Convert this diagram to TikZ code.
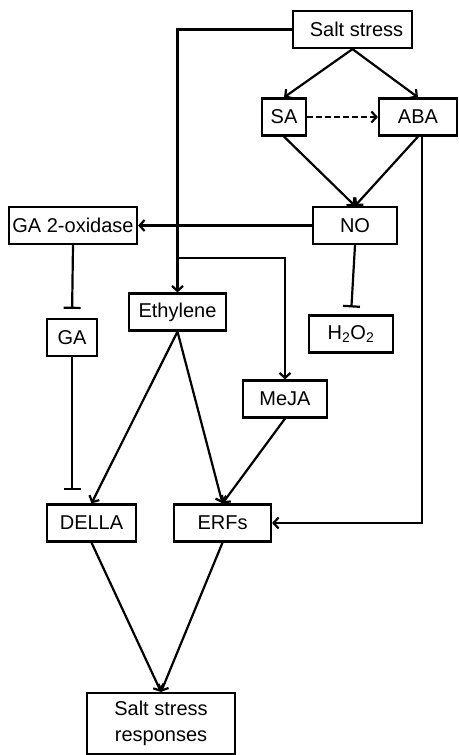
\documentclass[tikz,border=0pt]{standalone}
\usepackage{fontspec}
\setmainfont{Liberation Sans}
\usetikzlibrary{arrows.meta}
\begin{document}
\begin{tikzpicture}[
            x=1pt, y=-1pt,
            line width=2.2pt,
            every node/.style={draw, rectangle, minimum height=37pt, inner sep=0pt, font=\fontsize{20}{26}\selectfont},
            act/.style={draw, -{Straight Barb[length=5pt, width=11pt]}},
            inh/.style={draw, -{Bar[width=17pt]}}
        ]
        \useasboundingbox (0,0) rectangle (458,755);
        \node[minimum width=119pt] (stress) at (352.5,29.5) {\hspace{8pt}Salt stress};
        \node[minimum width=44pt] (SA) at (284,117) {SA};
        \node[minimum width=78pt] (ABA) at (418,117) {ABA};
        \node[minimum width=84pt] (NO) at (355,225.5) {NO};
        \node[minimum width=128pt] (GAox) at (73,225.5) {GA 2-oxidase};
        \node[minimum width=97pt] (Eth) at (177.5,312) {Ethylene};
        \node[minimum width=50pt] (GA) at (72,337.5) {GA};
        \node[minimum width=84pt] (HO) at (351,334) {H\textsubscript{2}O\textsubscript{2}};
        \node[minimum width=84pt] (MeJA) at (285,399) {MeJA};
        \node[minimum width=89pt] (DELLA) at (91.5,523) {DELLA};
        \node[minimum width=97pt] (ERFs) at (222.5,523) {ERFs};
        \node[minimum width=148pt, minimum height=61pt, align=center] (resp) at (161,723.5) {Salt stress\\responses};
        \coordinate (split) at (177.5,258);
        \coordinate (GAend) at (72,490);
        \draw[act] (stress.west) -| (Eth.north);
        \draw[act] (split) -| (MeJA.north);
        \draw[act] (stress.south) -- (SA.north);
        \draw[act] (stress.south) -- (ABA.north);
        \draw[act, dash pattern=on 6pt off 3pt] (SA.east) -- (ABA.west);
        \draw[act] (SA.south) -- (NO.north);
        \draw[act] (ABA.south) -- (NO.north);
        \draw[act] (NO.west) -- (GAox.east);
        \draw[inh, shorten >=9pt] (GAox.south) -- (GA.north);
        \draw[inh, shorten >=7pt] (NO.south) -- (HO.north);
        \draw[inh] (GA.south) -- (GAend);
        \draw[act] (Eth.south) -- (DELLA.north);
        \draw[act] (Eth.south) -- (ERFs.north);
        \draw[act] (MeJA.south) -- (ERFs.north);
        \draw[act] ([xshift=4pt]ABA.south) |- (ERFs.east);
        \draw[act] (DELLA.south) -- (resp.north);
        \draw[act] (ERFs.south) -- (resp.north);
    \end{tikzpicture}
\end{document}
